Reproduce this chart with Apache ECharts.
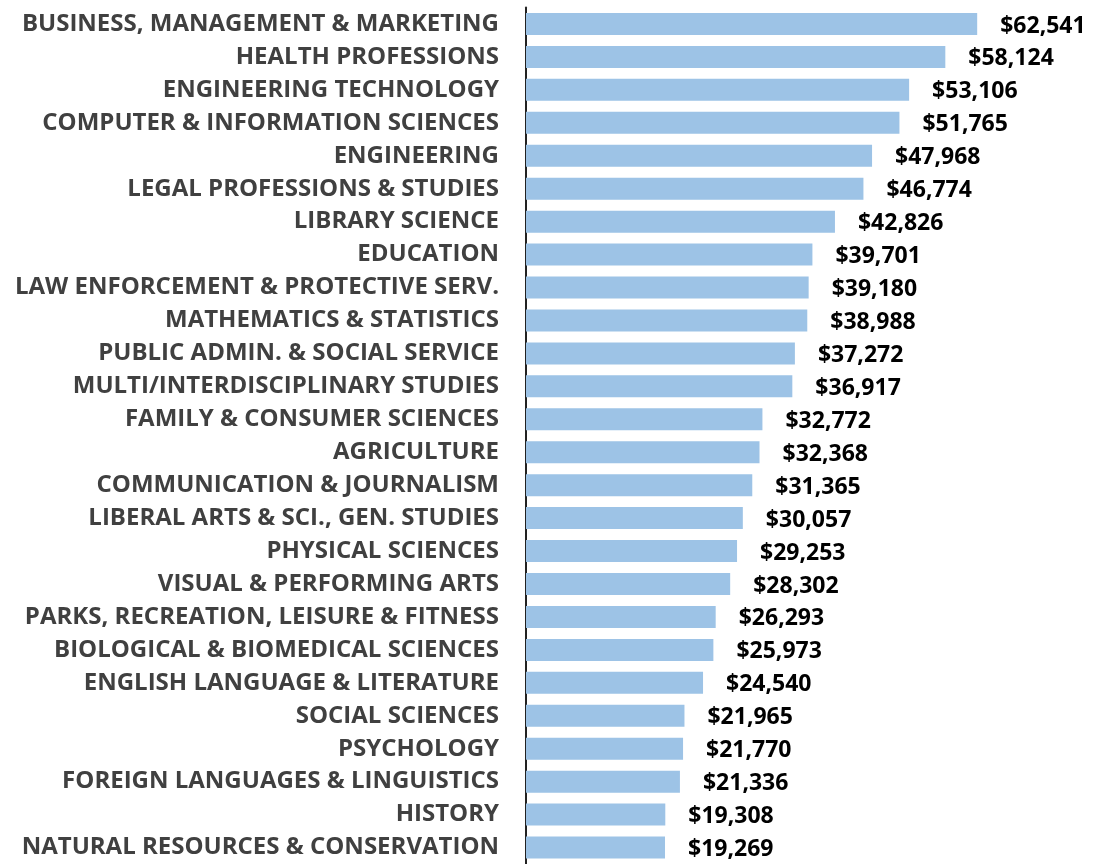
<!DOCTYPE html>
<html>
<head>
<meta charset="utf-8">
<script src="https://cdn.jsdelivr.net/npm/echarts@6/dist/echarts.min.js"></script>
<style>
  html, body { margin: 0; padding: 0; background: #fff; }
  #chart { width: 1097px; height: 864px; }
</style>
</head>
<body>
<div id="chart"></div>
<script>
// majors, top to bottom
const majors = [
  'BUSINESS, MANAGEMENT & MARKETING',
  'HEALTH PROFESSIONS',
  'ENGINEERING TECHNOLOGY',
  'COMPUTER & INFORMATION SCIENCES',
  'ENGINEERING',
  'LEGAL PROFESSIONS & STUDIES',
  'LIBRARY SCIENCE',
  'EDUCATION',
  'LAW ENFORCEMENT & PROTECTIVE SERV.',
  'MATHEMATICS & STATISTICS',
  'PUBLIC ADMIN. & SOCIAL SERVICE',
  'MULTI/INTERDISCIPLINARY STUDIES',
  'FAMILY & CONSUMER SCIENCES',
  'AGRICULTURE',
  'COMMUNICATION & JOURNALISM',
  'LIBERAL ARTS & SCI., GEN. STUDIES',
  'PHYSICAL SCIENCES',
  'VISUAL & PERFORMING ARTS',
  'PARKS, RECREATION, LEISURE & FITNESS',
  'BIOLOGICAL & BIOMEDICAL SCIENCES',
  'ENGLISH LANGUAGE & LITERATURE',
  'SOCIAL SCIENCES',
  'PSYCHOLOGY',
  'FOREIGN LANGUAGES & LINGUISTICS',
  'HISTORY',
  'NATURAL RESOURCES & CONSERVATION'
];

const salaries = [
  62541, 58124, 53106, 51765, 47968, 46774, 42826, 39701, 39180, 38988,
  37272, 36917, 32772, 32368, 31365, 30057, 29253, 28302, 26293, 25973,
  24540, 21965, 21770, 21336, 19308, 19269
];

const chart = echarts.init(document.getElementById('chart'));

chart.setOption({
  animation: false,
  grid: { left: 526, right: 66, top: 7.5, bottom: -0.5, containLabel: false },
  xAxis: {
    type: 'value',
    min: 0,
    max: 70000,
    show: false
  },
  yAxis: {
    type: 'category',
    data: majors,
    inverse: true,
    axisLine: { show: true, lineStyle: { color: '#222', width: 2 } },
    axisTick: { show: false },
    axisLabel: {
      margin: 27,
      color: '#404040',
      fontFamily: 'Open Sans',
      fontWeight: 'bold',
      fontSize: 24
    }
  },
  series: [{
    type: 'bar',
    data: salaries,
    barWidth: 22,
    itemStyle: { color: '#9DC3E6' },
    label: {
      show: true,
      position: 'right',
      distance: 23,
      color: '#000',
      fontFamily: 'Open Sans',
      fontWeight: 'bold',
      fontSize: 23,
      offset: [0, 2],
      formatter: p => '$' + p.value.toLocaleString('en-US')
    }
  }]
});
</script>
</body>
</html>
